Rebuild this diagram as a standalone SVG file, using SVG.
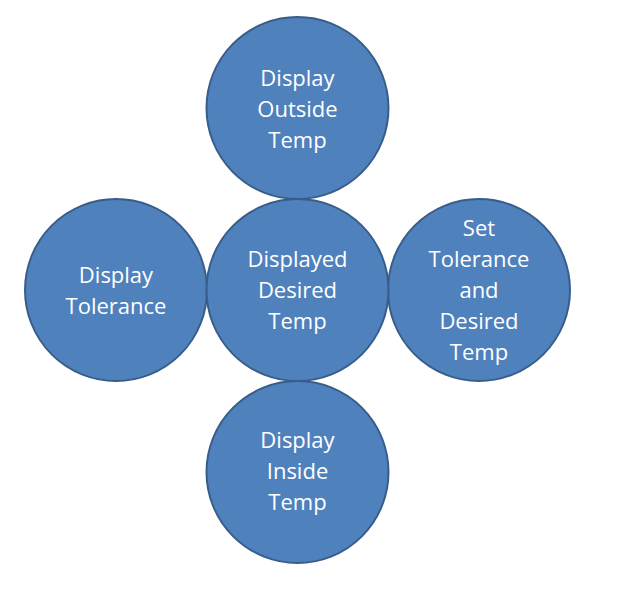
<svg xmlns="http://www.w3.org/2000/svg" width="620" height="593" viewBox="0 0 620 593">
<style>
.c{fill:#4F81BD;stroke:#385D8A;stroke-width:2}
.t{fill:#FFFFFF;font-family:"Open Sans","Noto Sans","Liberation Sans",sans-serif;font-size:22px;text-anchor:middle}
</style>
<rect width="620" height="593" fill="#FFFFFF"/>
<g id="connectors"></g>
<g id="node-top">
<circle class="c" cx="297.5" cy="108" r="91"/>
<text class="t" x="297.5" y="86">Display</text>
<text class="t" x="297.5" y="117">Outside</text>
<text class="t" x="297.5" y="148">Temp</text>
</g>
<g id="node-left">
<circle class="c" cx="116" cy="290" r="91"/>
<text class="t" x="116" y="283">Display</text>
<text class="t" x="116" y="314">Tolerance</text>
</g>
<g id="node-right">
<circle class="c" cx="479" cy="290" r="91"/>
<text class="t" x="479" y="236">Set</text>
<text class="t" x="479" y="267">Tolerance</text>
<text class="t" x="479" y="298">and</text>
<text class="t" x="479" y="329">Desired</text>
<text class="t" x="479" y="360">Temp</text>
</g>
<g id="node-bottom">
<circle class="c" cx="297.5" cy="472" r="91"/>
<text class="t" x="297.5" y="448">Display</text>
<text class="t" x="297.5" y="479">Inside</text>
<text class="t" x="297.5" y="510">Temp</text>
</g>
<g id="node-center">
<circle class="c" cx="297.5" cy="290" r="91"/>
<text class="t" x="297.5" y="267">Displayed</text>
<text class="t" x="297.5" y="298">Desired</text>
<text class="t" x="297.5" y="329">Temp</text>
</g>
</svg>
